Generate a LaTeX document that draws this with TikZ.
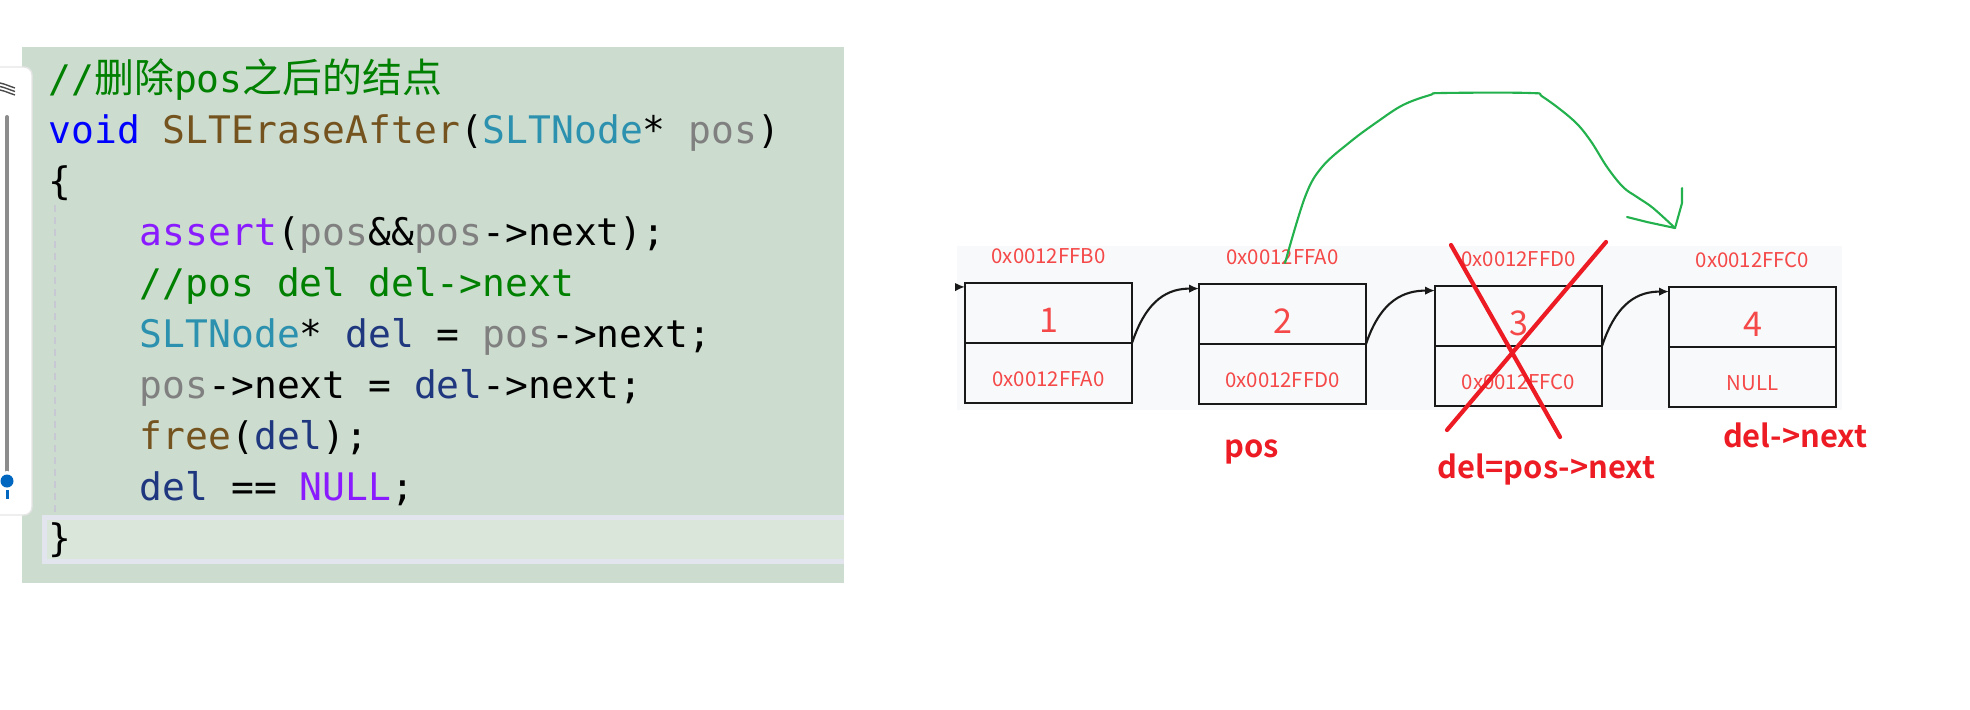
\documentclass[tikz,border=0pt]{standalone}
\usepackage{fontspec}
\usepackage{xcolor}
\usepackage{tikz}
\usetikzlibrary{positioning,calc,arrows.meta}
\newfontfamily\codefont{DejaVu Sans Mono}
\newfontfamily\cjkfont{Noto Sans CJK SC}[Scale=1.05]
\newfontfamily\lblfont{Noto Sans CJK SC}
\newfontfamily\tagfont{Noto Sans CJK SC Bold}
\definecolor{codebg}{RGB}{204,220,206}
\definecolor{curline}{RGB}{218,230,218}
\definecolor{curedge}{RGB}{226,228,238}
\definecolor{listbg}{RGB}{248,249,250}
\definecolor{addrred}{RGB}{245,72,72}
\definecolor{tagred}{RGB}{237,28,36}
\definecolor{handgreen}{RGB}{34,177,76}
\definecolor{kwblue}{RGB}{0,0,255}
\definecolor{fnbrown}{RGB}{116,83,31}
\definecolor{tyteal}{RGB}{43,145,175}
\definecolor{pagray}{RGB}{128,128,128}
\definecolor{mapurple}{RGB}{138,27,255}
\definecolor{lvnavy}{RGB}{31,55,127}
\definecolor{cmgreen}{RGB}{0,128,0}
\definecolor{guide}{RGB}{200,200,212}
\definecolor{thumb}{RGB}{0,103,192}
\newcommand{\ckw}[1]{\textcolor{kwblue}{#1}}
\newcommand{\cfn}[1]{\textcolor{fnbrown}{#1}}
\newcommand{\cty}[1]{\textcolor{tyteal}{#1}}
\newcommand{\cpa}[1]{\textcolor{pagray}{#1}}
\newcommand{\cma}[1]{\textcolor{mapurple}{#1}}
\newcommand{\clv}[1]{\textcolor{lvnavy}{#1}}
\newcommand{\ccm}[1]{\textcolor{cmgreen}{#1}}
\tikzset{
  srcline/.style = {font=\codefont\fontsize{10.8}{13}\selectfont, anchor=base west, inner sep=0pt},
  cell/.style    = {draw=black!90, line width=0.6pt, minimum width=1.67cm, minimum height=0.6cm, anchor=north west, inner sep=0pt, outer sep=0pt},
  addr/.style    = {font=\lblfont\fontsize{5.8}{7}\selectfont, text=addrred, anchor=base, inner sep=0pt},
  num/.style     = {font=\lblfont\fontsize{9.7}{11}\selectfont, text=addrred, anchor=base, inner sep=0pt},
  tag/.style     = {font=\tagfont\fontsize{8.8}{10}\selectfont, text=tagred, anchor=base, inner sep=0pt},
  link/.style    = {-{Latex[length=2.8pt,width=2.4pt]}, draw=black!90, line width=0.6pt},
  strike/.style  = {draw=tagred, line width=1.2pt, line cap=round},
  hand/.style    = {draw=handgreen, line width=0.6pt, line cap=round, line join=round},
  sidebar/.style = {draw=black!10, fill=white, rounded corners=0.08cm, line width=0.4pt},
}

\begin{document}
\begin{tikzpicture}[x=1cm,y=-1cm]
  \useasboundingbox (0,0) rectangle (19.70,7.09);

  % code panel
  \fill[codebg] (0.22,0.47) rectangle (8.44,5.83);
  \fill[curline] (0.445,5.175) rectangle (8.44,5.615);
  \draw[curedge, line width=1.2pt] (8.44,5.175) -- (0.445,5.175) -- (0.445,5.615) -- (8.44,5.615);
  \draw[guide, line width=0.6pt, dash pattern=on 0.07cm off 0.05cm] (0.55,2.05) -- (0.55,5.12);

  % side bar
  \draw[sidebar] (-0.2,0.67) rectangle (0.32,5.15);
  \foreach \k in {0,1,2} {
    \draw[black!70, line width=0.4pt] (0,0.83+0.035*\k) .. controls (0.05,0.84+0.035*\k) and (0.09,0.86+0.035*\k) .. (0.15,0.88+0.035*\k);
  }
  \draw[black!45, line width=0.04cm, line cap=round] (0.07,1.17) -- (0.07,4.72);
  \fill[white] (0.07,4.81) circle (0.1);
  \fill[thumb] (0.07,4.81) circle (0.065);
  \draw[thumb, line width=0.03cm] (0.07,4.90) -- (0.07,4.99);

  % source
  \node[srcline] (c0) at (0.48,0.92) {\ccm{//{\cjkfont 删除}pos{\cjkfont 之后的结点}}};
  \node[srcline] (c1) at (0.48,1.43) {\ckw{void} \cfn{SLTEraseAfter}(\cty{SLTNode}* \cpa{pos})};
  \node[srcline] (c2) at (0.48,1.94) {\{};
  \node[srcline] (c3) at (1.392,2.45) {\cma{assert}(\cpa{pos}\&\&\cpa{pos}->next);};
  \node[srcline] (c4) at (1.392,2.96) {\ccm{//pos del del->next}};
  \node[srcline] (c5) at (1.392,3.47) {\cty{SLTNode}* \clv{del} = \cpa{pos}->next;};
  \node[srcline] (c6) at (1.392,3.98) {\cpa{pos}->next = \clv{del}->next;};
  \node[srcline] (c7) at (1.392,4.49) {\cfn{free}(\clv{del});};
  \node[srcline] (c8) at (1.392,5.00) {\clv{del} == \cma{NULL};};
  \node[srcline] (c9) at (0.48,5.51) {\}};

  % list
  \fill[listbg] (9.57,2.46) rectangle (18.42,4.10);
  \foreach \i/\x/\y/\v/\up/\dn in {1/9.65/2.83/1/0x0012FFB0/0x0012FFA0,
                                   2/11.99/2.84/2/0x0012FFA0/0x0012FFD0,
                                   3/14.35/2.86/3/0x0012FFD0/0x0012FFC0,
                                   4/16.69/2.87/4/0x0012FFC0/NULL} {
    \node[cell] (d\i) at (\x,\y) {};
    \node[cell] (p\i) at (d\i.south west) {};
    \node[addr] (u\i) at (\x+0.835,\y-0.195) {\up};
    \node[num] (n\i) at (\x+0.835,\y+0.49) {\v};
    \node[addr] (a\i) at (\x+0.835,\y+1.035) {\dn};
  }
  \coordinate (head) at (9.57,2.87);
  \draw[link] (head) -- ([yshift=-1.1pt]d1.north west);
  \foreach \a/\b in {1/2,2/3,3/4} {
    \draw[link] (d\a.south east) .. controls +(0.15,-0.45) and +(-0.30,0) .. ([yshift=-1.3pt]d\b.north west);
  }

  \node[tag] (pos) at (12.52,4.57) {pos};
  \node[tag] (del) at (15.465,4.78) {del=pos->next};
  \node[tag] (delnext) at (17.95,4.47) {del->next};

  % crossed out
  \draw[strike] (14.51,2.45) -- (15.60,4.37);
  \draw[strike] (16.06,2.42) -- (14.47,4.30);

  % hand drawn skip
  \coordinate (skip0) at (12.85,2.63);
  \coordinate (skip1) at (16.75,2.28);
  \draw[hand] plot[smooth, tension=0.6] coordinates {(skip0) (13.05,1.97) (13.22,1.67) (13.50,1.42)
    (13.77,1.22) (14.03,1.05) (14.30,0.95) (14.43,0.93) (15.30,0.93) (15.43,0.97) (15.73,1.20)
    (15.90,1.40) (16.07,1.67) (16.23,1.87) (16.37,1.97) (16.53,2.08) (skip1)};
  \draw[hand] (16.27,2.17) -- (16.47,2.22) -- (skip1);
  \draw[hand] (skip1) -- (16.82,2.03) -- (16.82,1.88);
\end{tikzpicture}
\end{document}
